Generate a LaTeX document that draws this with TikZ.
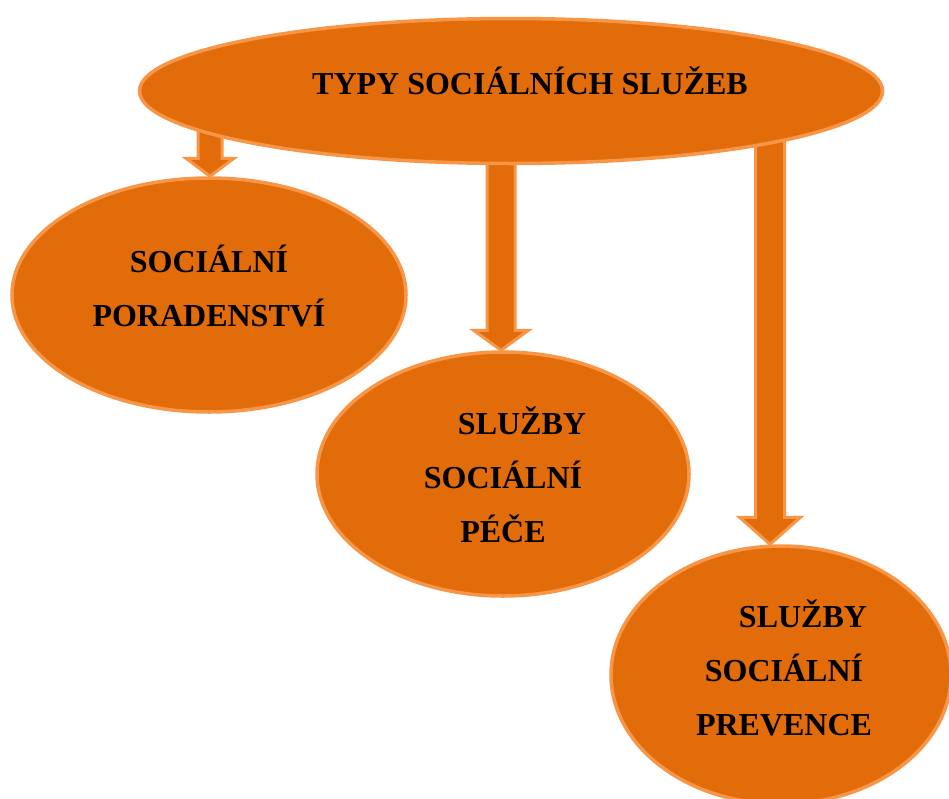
\documentclass[tikz,border=0pt]{standalone}
\usepackage{fontspec}
\setmainfont{Liberation Serif}
\usetikzlibrary{shapes.geometric,calc,backgrounds}
\definecolor{ofill}{HTML}{E36C0A}
\definecolor{oline}{HTML}{F79646}
\tikzset{
  oval/.style={ellipse, fill=ofill, draw=oline, line width=3.5pt, inner sep=0pt},
  lbl/.style={font=\bfseries\fontsize{32}{54}\selectfont, align=center, text=black, inner sep=0pt},
  barrow/.style={fill=ofill, draw=oline, line width=3pt, line join=miter},
}
% #1 start coord, #2 tip coord, #3 half shaft, #4 half head, #5 head length
\newcommand{\blockarrow}[5]{%
  \draw[barrow] let \p1=(#1), \p2=(#2) in
    (\x1-#3pt,\y1) -- (\x1-#3pt,\y2+#5pt) -- (\x1-#4pt,\y2+#5pt) -- (\x2,\y2)
    -- (\x1+#4pt,\y2+#5pt) -- (\x1+#3pt,\y2+#5pt) -- (\x1+#3pt,\y1) -- cycle;}
\begin{document}
\begin{tikzpicture}[x=1pt,y=-1pt]
\useasboundingbox (0,0) rectangle (949,798);
\clip (0,0) rectangle (949,798);
\node[oval, minimum width=743pt, minimum height=145pt] (top) at (511,91) {};
\node[oval, minimum width=394pt, minimum height=234pt] (pora) at (209,295) {};
\node[oval, minimum width=372pt, minimum height=244pt] (pece) at (503,474) {};
\node[oval, minimum width=340pt, minimum height=258pt] (prev) at (781,675) {};

\coordinate (a1s) at (210,0 |- top.center);
\coordinate (a1e) at (210,0 |- pora.north);
\coordinate (a2s) at (501,0 |- top.center);
\coordinate (a2e) at (501,0 |- pece.north);
\coordinate (a3s) at (770,0 |- top.center);
\coordinate (a3e) at (770,0 |- prev.north);
\begin{pgfonlayer}{background}
\blockarrow{a1s}{a1e}{12}{24}{18}
\blockarrow{a2s}{a2e}{14}{27.5}{20}
\blockarrow{a3s}{a3e}{14.5}{30.5}{27}
\end{pgfonlayer}

\node[lbl] (ttop) at (530,81) {TYPY SOCIÁLNÍCH SLUŽEB};
\node[lbl] (tpora) at (209,286) {SOCIÁLNÍ\\PORADENSTVÍ};
\node[lbl] (tpece) at (503,475) {\hspace*{38pt}SLUŽBY\\SOCIÁLNÍ\\PÉČE};
\node[lbl] (tprev) at (784,668) {\hspace*{38pt}SLUŽBY\\SOCIÁLNÍ\\PREVENCE};
\end{tikzpicture}
\end{document}
